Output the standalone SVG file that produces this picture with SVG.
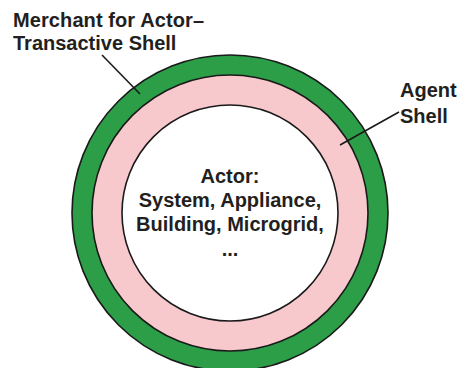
<svg xmlns="http://www.w3.org/2000/svg" width="457" height="368" viewBox="0 0 457 368">
<style>
.ring{stroke:#1a1a1a;stroke-width:1.6}
.t{font-family:"Liberation Sans",Arial,sans-serif;font-weight:bold;font-size:20px;fill:#231f20}
.c{text-anchor:middle}
.ln{stroke:#1a1a1a;stroke-width:1.6;fill:none}
</style>
<rect width="457" height="368" fill="#fff"/>
<g id="merchant-shell">
<circle class="ring" cx="230" cy="213" r="158" fill="#2c9e48"/>
</g>
<g id="agent-shell">
<circle class="ring" cx="230" cy="213" r="138" fill="#f8c9cc"/>
</g>
<g id="actor">
<circle class="ring" cx="230" cy="213" r="108" fill="#fff"/>
<text class="t c" x="230" y="183">Actor:</text>
<text class="t c" x="230" y="207">System, Appliance,</text>
<text class="t c" x="230" y="231">Building, Microgrid,</text>
<text class="t c" x="230" y="256">...</text>
</g>
<g id="label-merchant">
<text class="t" x="13" y="27" textLength="191">Merchant for Actor–</text>
<text class="t" x="13" y="50">Transactive Shell</text>
</g>
<g id="label-agent">
<text class="t" x="400" y="97">Agent</text>
<text class="t" x="400" y="123">Shell</text>
</g>
<g id="connectors">
<line class="ln" x1="102" y1="55" x2="140" y2="94"/>
<line class="ln" x1="399" y1="112" x2="340" y2="145"/>
</g>
</svg>
